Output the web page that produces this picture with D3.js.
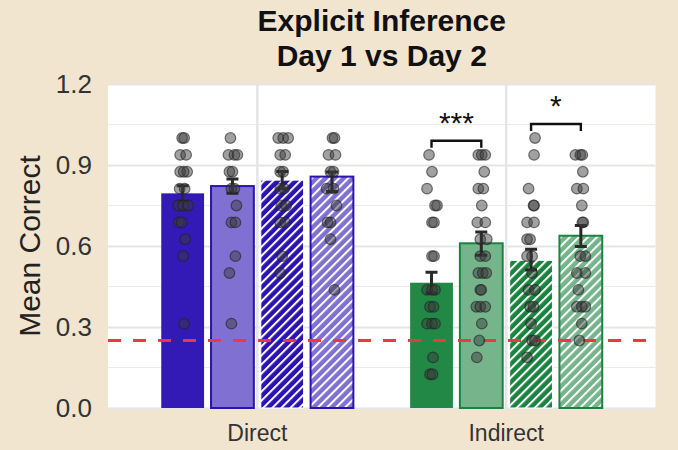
<!DOCTYPE html>
<html>
<head>
<meta charset="utf-8">
<script src="https://cdn.jsdelivr.net/npm/d3@7"></script>
<style>
  body { margin: 0; background: #f1e5d0; }
  svg { display: block; font-family: "Liberation Sans", Arial, sans-serif; }
</style>
</head>
<body>
<div id="chart"></div>
<script>
// Datos
const categories = ["Direct", "Indirect"];
const conditions = ["Day 1 · A", "Day 2 · A", "Day 1 · B", "Day 2 · B"];
const nItems = 16;

// medias por categoría (orden de conditions)
const meanDirect = [0.795, 0.822, 0.844, 0.857];
const meanIndirect = [0.464, 0.610, 0.547, 0.638];
// intervalos de error
const ciLowDirect = [0.767, 0.795, 0.812, 0.802];
const ciHighDirect = [0.823, 0.848, 0.876, 0.874];
const ciLowIndirect = [0.426, 0.566, 0.511, 0.598];
const ciHighIndirect = [0.503, 0.652, 0.588, 0.676];

// aciertos por participante (de 16) y jitter (fracción del hueco de cada barra)
const scoresDirect = [
  [16, 16, 15, 15, 14, 14, 14, 13, 13, 12, 12, 12, 11, 11, 10, 9, 5],
  [16, 15, 15, 15, 14, 14, 13, 13, 12, 11, 11, 9, 8, 5],
  [16, 16, 16, 15, 15, 14, 14, 13, 13, 12, 12, 11, 11, 9, 8],
  [16, 16, 15, 15, 14, 14, 13, 13, 12, 11, 11, 10, 7]
];
const jitterDirect = [
  [-0.01, 0.03, -0.05, 0.07, -0.05, 0.09, 0.02, -0.06, 0.04, -0.09, 0.01, 0.11, -0.08, -0.02, 0.05, 0.01, 0.03],
  [-0.04, -0.08, 0.04, 0.1, -0.06, 0, -0.02, 0.04, 0.08, -0.02, 0.06, 0.06, -0.06, -0.02],
  [-0.08, 0.02, 0.12, -0.04, 0.06, -0.04, 0.02, -0.04, 0.04, -0.02, 0.08, -0.04, 0.06, 0, -0.04],
  [0.01, 0.05, -0.07, 0.07, -0.03, 0.03, -0.11, 0.03, 0.09, -0.09, -0.03, -0.03, 0.05]
];
const scoresIndirect = [
  [15, 14, 13, 12, 12, 11, 11, 9, 9, 7, 7, 7, 6, 6, 5, 5, 5, 3, 2, 2],
  [15, 15, 15, 14, 13, 13, 12, 11, 11, 10, 10, 9, 9, 8, 8, 8, 7, 7, 6, 6, 6, 5, 4, 3],
  [16, 15, 13, 12, 12, 11, 11, 10, 10, 9, 9, 8, 7, 7, 6, 6, 5, 4, 4, 3],
  [15, 15, 15, 14, 13, 13, 12, 11, 11, 9, 9, 8, 8, 7, 6, 6, 6, 5, 4]
];
const jitterIndirect = [
  [-0.05, 0.01, -0.09, 0.07, 0.11, 0.01, 0.05, 0.01, 0.05, -0.09, 0.01, 0.07, -0.03, 0.04, -0.09, 0.01, 0.07, 0.03, -0.03, 0.02],
  [-0.06, 0.01, 0.08, 0.06, -0.06, 0.04, 0.01, -0.08, 0.08, -0.02, 0.11, -0.02, 0.08, -0.06, 0.03, 0.1, -0.02, 0, -0.1, -0.02, 0.08, 0.01, -0.04, -0.09],
  [0.08, 0.06, -0.05, 0.05, 0.06, -0.08, 0.06, -0.08, -0.02, -0.08, 0.02, 0.02, -0.05, 0.08, -0.02, 0.05, 0, 0.02, 0.08, -0.08],
  [-0.11, -0.01, 0.03, 0.04, -0.08, 0.05, 0.02, 0.05, 0.03, -0.01, 0.09, -0.08, 0.09, -0.05, -0.08, 0.02, 0.09, 0.02, -0.03]
];

const chance = 0.25;
const yTicks = [0, 0.3, 0.6, 0.9, 1.2];
const yMinorTicks = [0.15, 0.45, 0.75, 1.05];
// comparaciones significativas (índices de conditions)
const signif = [
  { cat: "Indirect", a: 0, b: 1, level: 0.99, label: "***" },
  { cat: "Indirect", a: 2, b: 3, level: 1.052, label: "*" }
];

// Dimensiones
const width = 678, height = 450;
const plotLeft = 108, plotRight = 655.5, plotTop = 84, plotBottom = 408;

const baseColor = { Direct: "#2c12b3", Indirect: "#1a843f" };
const lightColor = { Direct: "#8070d1", Indirect: "#76b58c" };

const svg = d3.select("#chart").append("svg")
  .attr("width", width)
  .attr("height", height);

svg.append("rect").attr("width", width).attr("height", height).attr("fill", "#f1e5d0");

// Escalas
const x0 = d3.scaleBand().domain(categories).range([plotLeft, plotRight])
  .paddingInner(0.2).paddingOuter(0.2);
const x1 = d3.scaleBand().domain(conditions).range([0, x0.bandwidth()])
  .paddingInner(0.1).paddingOuter(0.05);
const y = d3.scaleLinear().domain([0, 1.2]).range([plotBottom, plotTop]);
const slot = x0.bandwidth() / conditions.length;

// Patrones de rayado
const defs = svg.append("defs");
categories.forEach(c => {
  [["dark", baseColor[c], 1], ["light", baseColor[c], 0.6]].forEach(([k, col, op]) => {
    const p = defs.append("pattern")
      .attr("id", `hatch-${c}-${k}`)
      .attr("patternUnits", "userSpaceOnUse")
      .attr("width", 6.4).attr("height", 6.4)
      .attr("patternTransform", "rotate(45)");
    p.append("rect").attr("width", 6.4).attr("height", 6.4).attr("fill", "#fff");
    p.append("rect").attr("width", 6.4).attr("height", 6.4).attr("fill", col).attr("fill-opacity", op);
    p.append("line").attr("x1", 1).attr("x2", 1).attr("y1", 0).attr("y2", 6.4)
      .attr("stroke", "#fff").attr("stroke-width", 2);
  });
});

// Fondo del área
svg.append("rect")
  .attr("x", plotLeft).attr("y", plotTop)
  .attr("width", plotRight - plotLeft).attr("height", plotBottom - plotTop)
  .attr("fill", "#fff");

// Rejilla menor
svg.append("g").selectAll("line").data(yMinorTicks).join("line")
  .attr("x1", plotLeft).attr("x2", plotRight)
  .attr("y1", d => y(d)).attr("y2", d => y(d))
  .attr("stroke", "#ebebeb").attr("stroke-width", 1.2);

// Eje Y + rejilla mayor
const yAxis = svg.append("g")
  .attr("transform", `translate(${plotLeft},0)`)
  .call(d3.axisLeft(y).tickValues(yTicks).tickFormat(d3.format(".1f"))
    .tickSize(-(plotRight - plotLeft)).tickPadding(16));
yAxis.select(".domain").remove();
yAxis.selectAll("line").attr("stroke", "#e5e5e5").attr("stroke-width", 2);
yAxis.selectAll("text").attr("font-size", 26).attr("fill", "#333")
  .attr("font-family", "Liberation Sans, Arial, sans-serif");

// Eje X + rejilla vertical
const xAxis = svg.append("g")
  .attr("transform", `translate(0,${plotBottom})`)
  .call(d3.axisBottom(x0).tickSize(-(plotBottom - plotTop)).tickPadding(17));
xAxis.select(".domain").remove();
xAxis.selectAll("line").attr("stroke", "#e5e5e5").attr("stroke-width", 2.5);
xAxis.selectAll("text").attr("font-size", 23).attr("fill", "#333")
  .attr("font-family", "Liberation Sans, Arial, sans-serif");

// Tabla de barras
const bars = [];
categories.forEach((c, ci) => {
  const means = ci === 0 ? meanDirect : meanIndirect;
  const lo = ci === 0 ? ciLowDirect : ciLowIndirect;
  const hi = ci === 0 ? ciHighDirect : ciHighIndirect;
  const sc = ci === 0 ? scoresDirect : scoresIndirect;
  const jt = ci === 0 ? jitterDirect : jitterIndirect;
  conditions.forEach((h, hi_) => {
    bars.push({ cat: c, cond: h, idx: hi_, mean: means[hi_], lo: lo[hi_], hi: hi[hi_],
      scores: sc[hi_], jitter: jt[hi_] });
  });
});

const barCenter = d => x0(d.cat) + x1(d.cond) + x1.bandwidth() / 2;

function barFill(d) {
  if (d.idx === 0) return baseColor[d.cat];
  if (d.idx === 1) return lightColor[d.cat];
  if (d.idx === 2) return `url(#hatch-${d.cat}-dark)`;
  return `url(#hatch-${d.cat}-light)`;
}
function barStroke(d) {
  if (d.idx === 0) return "none";
  if (d.idx === 2) return "#fff";
  return baseColor[d.cat];
}

svg.append("g").selectAll("rect").data(bars).join("rect")
  .attr("x", d => x0(d.cat) + x1(d.cond) + 1)
  .attr("y", d => y(d.mean))
  .attr("width", x1.bandwidth() - 2)
  .attr("height", d => y(0) - y(d.mean))
  .attr("fill", barFill)
  .attr("fill-opacity", d => d.idx === 0 ? 0.97 : 1)
  .attr("stroke", barStroke)
  .attr("stroke-width", d => d.idx === 2 ? 1 : 2);

// Línea de azar
svg.append("line")
  .attr("x1", plotLeft).attr("x2", plotRight)
  .attr("y1", y(chance)).attr("y2", y(chance))
  .attr("stroke", "#f03643")
  .attr("stroke-width", 3).attr("stroke-dasharray", "13,12");

// Barras de error
const err = svg.append("g").attr("stroke", "#2a2a2a").attr("stroke-width", 3).attr("fill", "none");
err.selectAll("path").data(bars).join("path")
  .attr("d", d => {
    const cx = barCenter(d), t = y(d.hi), b = y(d.lo);
    return `M${cx - 6},${t}H${cx + 6}M${cx},${t}V${b}M${cx - 6},${b}H${cx + 6}`;
  });

// Puntos individuales
const pts = bars.flatMap(d => d.scores.map((s, i) => ({
  cx: barCenter(d) + d.jitter[i] * slot,
  v: s / nItems
})));
svg.append("g").selectAll("circle").data(pts).join("circle")
  .attr("cx", d => d.cx)
  .attr("cy", d => y(d.v))
  .attr("r", 5.3)
  .attr("fill", "#3a3a3a").attr("fill-opacity", 0.48)
  .attr("stroke", "#222").attr("stroke-opacity", 0.6).attr("stroke-width", 1.2);

// Significancia
const sg = svg.append("g");
signif.forEach(s => {
  const xa = x0(s.cat) + x1(conditions[s.a]) + x1.bandwidth() / 2;
  const xb = x0(s.cat) + x1(conditions[s.b]) + x1.bandwidth() / 2;
  const yl = y(s.level);
  sg.append("path")
    .attr("d", `M${xa},${yl + 7}V${yl}H${xb}V${yl + 7}`)
    .attr("fill", "none").attr("stroke", "#111").attr("stroke-width", 2.4);
  sg.append("text")
    .attr("x", (xa + xb) / 2).attr("y", yl - 8)
    .attr("text-anchor", "middle").attr("font-size", 30).attr("fill", "#111")
    .text(s.label);
});

// Títulos
const title = svg.append("text")
  .attr("text-anchor", "middle").attr("font-size", 30).attr("font-weight", "bold")
  .attr("fill", "#111");
title.append("tspan").attr("x", (plotLeft + plotRight) / 2).attr("y", 31).text("Explicit Inference");
title.append("tspan").attr("x", (plotLeft + plotRight) / 2).attr("y", 66).text("Day 1 vs Day 2");

svg.append("text")
  .attr("transform", `translate(40,${(plotTop + plotBottom) / 2}) rotate(-90)`)
  .attr("text-anchor", "middle").attr("font-size", 30).attr("fill", "#222")
  .text("Mean Correct");
</script>
</body>
</html>
